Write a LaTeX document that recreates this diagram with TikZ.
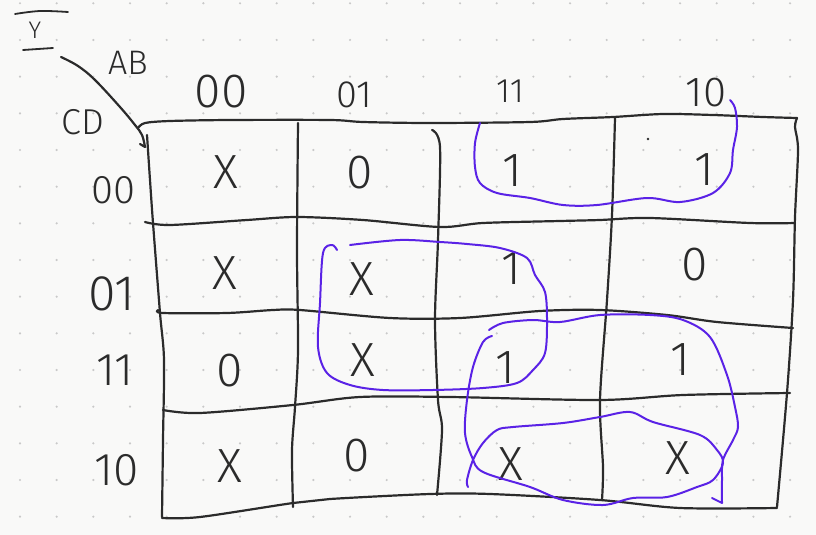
\documentclass[tikz,border=0pt]{standalone}
\usepackage{fontspec}
\setmainfont{Fira Sans}[UprightFont=* Light]
\definecolor{ink}{HTML}{2B2B2B}
\definecolor{pen}{HTML}{5A22E6}
\definecolor{paper}{HTML}{F9F9F8}
\definecolor{dotc}{HTML}{C9C9C9}
\begin{document}
\begin{tikzpicture}[x=1pt,y=-1pt,
  gridline/.style={draw=ink, line width=2.2pt, line cap=round, line join=round},
  penloop/.style={draw=pen, line width=2pt, line cap=round, line join=round},
  entry/.style={text=ink, inner sep=0pt, font=\fontsize{48}{48}\selectfont},
  lab/.style={text=ink, inner sep=0pt, font=\fontsize{40}{40}\selectfont}]
\fill[paper] (0,0) rectangle (816,535);
\useasboundingbox (0,0) rectangle (816,535);
\foreach \i in {0,...,21} \foreach \j in {0,...,14}
  \fill[dotc] ({20+36.67*\i},{3.3+36.67*\j}) circle (1.2pt);

% Y label with bars
\node[text=ink, inner sep=0pt, font=\fontsize{24}{24}\selectfont] (ylab) at (35,30) {Y};
\draw[gridline, line width=1.8pt] plot[smooth, tension=0.6] coordinates {(15,14) (40,11) (68,12)};
\draw[gridline, line width=1.8pt] (23,50) -- (53,48);

% diagonal divider
\draw[gridline] plot[smooth, tension=0.6] coordinates {(61,57) (78,66) (95,80) (120,107) (135,125) (142,135) (145,147)} -- (140,144);
\node[lab, font=\fontsize{34}{34}\selectfont] (ab) at (128,63) {AB};
\node[lab, font=\fontsize{36}{36}\selectfont] (cd) at (83,122) {CD};

% horizontal lines
\draw[gridline] plot[smooth, tension=0.5] coordinates {(138,128) (145,123) (170,121) (230,120) (330,120) (363,122) (430,123) (530,122) (563,119) (613,117) (663,114) (713,115) (763,117) (797,118)};
\draw[gridline] plot[smooth, tension=0.5] coordinates {(145,222) (170,225) (247,220) (297,217) (363,220) (440,227) (483,223) (560,221) (600,220) (650,218) (750,223) (795,223)};
\draw[gridline] plot[smooth, tension=0.5] coordinates {(158,310) (163,313) (227,313) (273,310) (300,310) (390,318) (460,318) (540,311) (600,310) (667,315) (717,322) (793,328)};
\draw[gridline] plot[smooth, tension=0.5] coordinates {(163,410) (200,413) (293,405) (360,397) (450,397) (600,400) (683,395) (790,393)};
\draw[gridline] plot[smooth, tension=0.5] coordinates {(162,518) (200,517) (293,503) (330,499) (430,494) (490,494) (600,500) (680,508) (777,508)};

% vertical lines
\draw[gridline] plot[smooth, tension=0.5] coordinates {(147,135) (150,180) (153,223) (160,313) (164,360) (163,440) (162,517)};
\draw[gridline] plot[smooth, tension=0.5] coordinates {(298,123) (297,250) (298,350) (295,407) (292,450) (293,507)};
\draw[gridline] plot[smooth, tension=0.5] coordinates {(432,130) (440,147) (438,240) (435,320) (438,400) (442,430) (437,495)};
\draw[gridline] plot[smooth, tension=0.5] coordinates {(615,118) (612,215) (607,300) (600,400) (603,467) (602,500)};
\draw[gridline] plot[smooth, tension=0.5] coordinates {(797,118) (795,127) (798,150) (795,217) (793,300) (787,393) (777,507)};

% column headers
\node[lab, font=\fontsize{48}{48}\selectfont] (h00) at (221,92) {00};
\node[lab, font=\fontsize{38}{38}\selectfont] (h01) at (354,95) {01};
\node[lab, font=\fontsize{34}{34}\selectfont] (h11) at (510,91) {11};
\node[lab, font=\fontsize{42}{42}\selectfont] (h10) at (706,93) {10};
% row headers
\node[lab, font=\fontsize{40}{40}\selectfont] (r00) at (113,190) {00};
\node[lab, font=\fontsize{50}{50}\selectfont] (r01) at (112,294) {01};
\node[lab, font=\fontsize{46}{46}\selectfont] (r11) at (115,370) {11};
\node[lab, font=\fontsize{46}{46}\selectfont] (r10) at (117,470) {10};

% entries
\node[entry] (e1) at (226,172) {X};
\node[entry] (e2) at (360,173) {0};
\node[entry] (e3) at (512,171) {1};
\node[entry] (e4) at (704,170) {1};
\node[entry] (e5) at (225,273) {X};
\node[entry] (e6) at (362,279) {X};
\node[entry] (e7) at (511,269) {1};
\node[entry] (e8) at (695,265) {0};
\node[entry] (e9) at (230,371) {0};
\node[entry] (e10) at (363,360) {X};
\node[entry] (e11) at (505,368) {1};
\node[entry] (e12) at (680,360) {1};
\node[entry] (e13) at (230,466) {X};
\node[entry] (e14) at (357,456) {0};
\node[entry] (e15) at (511,464) {X};
\node[entry] (e16) at (678,458) {X};
\fill[ink] (648,139) circle (1.3pt);

% loops
\draw[penloop] plot[smooth, tension=0.55] coordinates {(480,123) (475,143) (475,167) (480,183) (497,193) (530,198) (563,205) (597,205) (647,198) (680,202) (713,193) (730,173) (733,150) (737,127) (735,108) (730,100)};
\draw[penloop] plot[smooth, tension=0.55] coordinates {(350,245) (400,240) (440,242) (467,244) (500,248) (527,258) (535,275) (545,292) (547,320) (545,353) (533,370) (517,383) (483,388) (433,390) (383,390) (350,385) (327,373) (318,347) (320,303) (323,253) (332,245) (337,250)};
\draw[penloop] plot[smooth, tension=0.55] coordinates {(489,330) (503,323) (533,320) (560,322) (600,315) (650,315) (683,320) (710,337) (727,375) (735,407) (738,427) (733,440) (723,460) (722,480) (722,503)} -- (712,498);
\draw[penloop] plot[smooth, tension=0.55] coordinates {(492,336) (483,342) (473,367) (467,400) (465,433) (472,457) (483,472) (530,487) (563,500) (603,505) (633,498) (667,497) (697,487) (713,480) (723,463) (717,450) (700,435) (653,422) (630,412) (600,417) (563,423) (513,427) (497,430) (483,443) (473,460) (467,480) (468,487)};
\end{tikzpicture}
\end{document}
